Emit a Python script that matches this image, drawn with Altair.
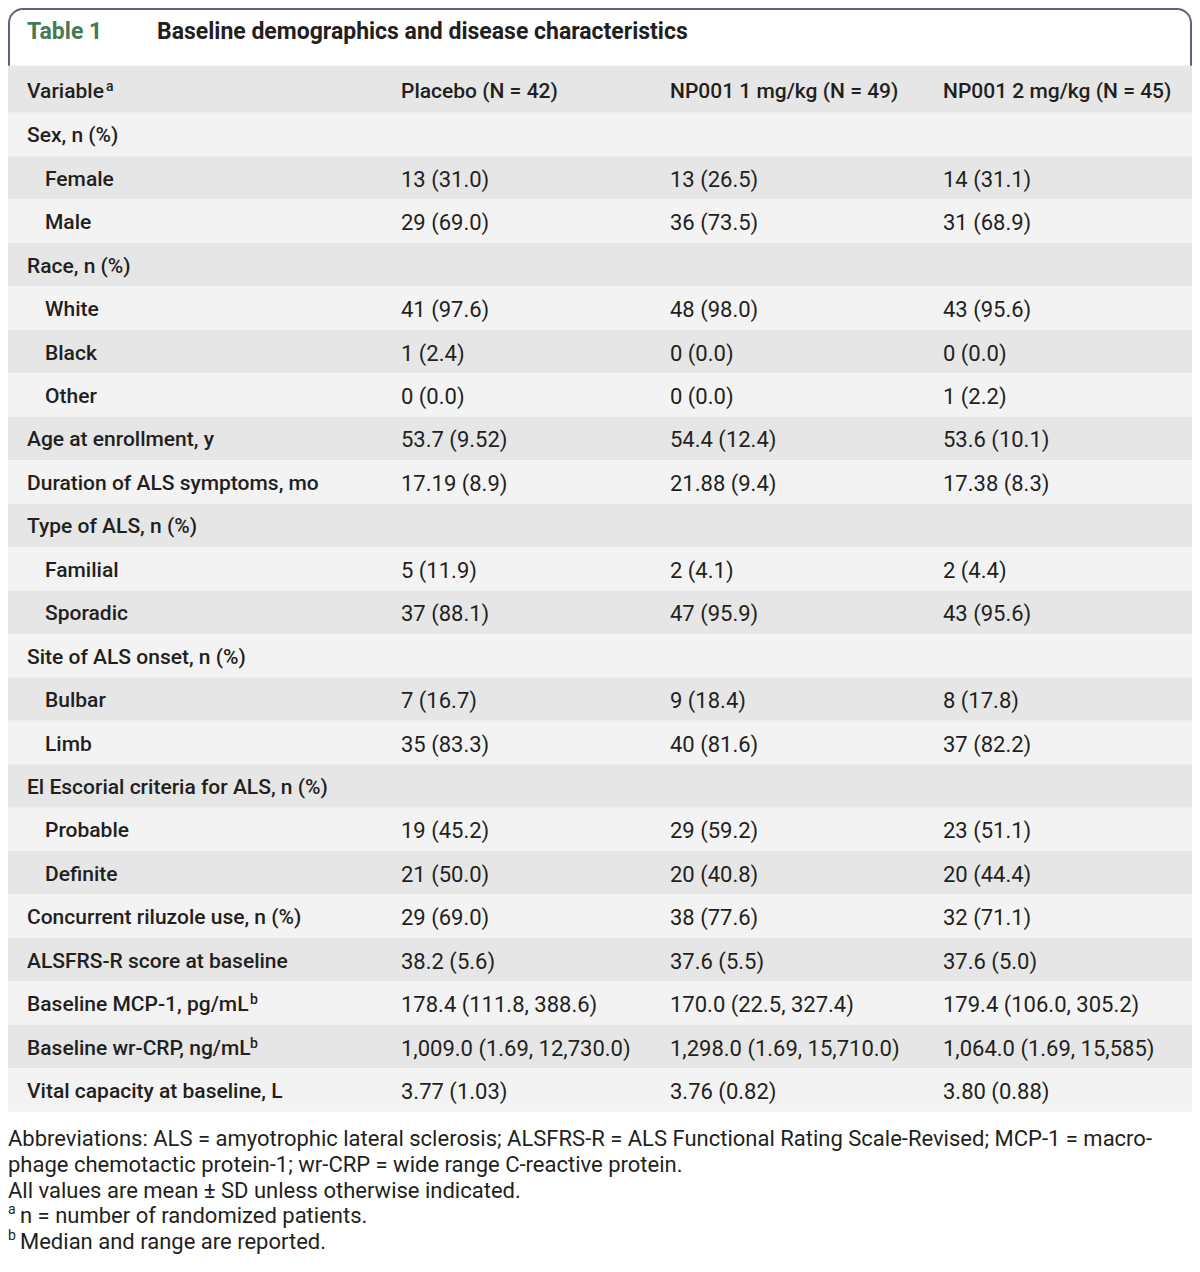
import altair as alt
import pandas as pd

# ---------------- content ----------------
title_tag = "Table 1"
title_text = "Baseline demographics and disease characteristics"
header = ["Variable", "Placebo (N = 42)", "NP001 1 mg/kg (N = 49)", "NP001 2 mg/kg (N = 45)"]

labels = [
    "Sex, n (%)", "Female", "Male", "Race, n (%)", "White", "Black", "Other",
    "Age at enrollment, y", "Duration of ALS symptoms, mo", "Type of ALS, n (%)",
    "Familial", "Sporadic", "Site of ALS onset, n (%)", "Bulbar", "Limb",
    "El Escorial criteria for ALS, n (%)", "Probable", "Definite",
    "Concurrent riluzole use, n (%)", "ALSFRS-R score at baseline",
    "Baseline MCP-1, pg/mL", "Baseline wr-CRP, ng/mL", "Vital capacity at baseline, L",
]
indent = [0, 1, 1, 0, 1, 1, 1, 0, 0, 0, 1, 1, 0, 1, 1, 0, 1, 1, 0, 0, 0, 0, 0]
label_marks = ["", "", "", "", "", "", "", "", "", "", "", "", "", "", "", "", "", "",
               "", "", "b", "b", ""]
header_mark = "a"
placebo = ["", "13 (31.0)", "29 (69.0)", "", "41 (97.6)", "1 (2.4)", "0 (0.0)",
           "53.7 (9.52)", "17.19 (8.9)", "", "5 (11.9)", "37 (88.1)", "",
           "7 (16.7)", "35 (83.3)", "", "19 (45.2)", "21 (50.0)", "29 (69.0)",
           "38.2 (5.6)", "178.4 (111.8, 388.6)", "1,009.0 (1.69, 12,730.0)", "3.77 (1.03)"]
np001_1 = ["", "13 (26.5)", "36 (73.5)", "", "48 (98.0)", "0 (0.0)", "0 (0.0)",
           "54.4 (12.4)", "21.88 (9.4)", "", "2 (4.1)", "47 (95.9)", "",
           "9 (18.4)", "40 (81.6)", "", "29 (59.2)", "20 (40.8)", "38 (77.6)",
           "37.6 (5.5)", "170.0 (22.5, 327.4)", "1,298.0 (1.69, 15,710.0)", "3.76 (0.82)"]
np001_2 = ["", "14 (31.1)", "31 (68.9)", "", "43 (95.6)", "0 (0.0)", "1 (2.2)",
           "53.6 (10.1)", "17.38 (8.3)", "", "2 (4.4)", "43 (95.6)", "",
           "8 (17.8)", "37 (82.2)", "", "23 (51.1)", "20 (44.4)", "32 (71.1)",
           "37.6 (5.0)", "179.4 (106.0, 305.2)", "1,064.0 (1.69, 15,585)", "3.80 (0.88)"]
footnotes = [
    "Abbreviations: ALS = amyotrophic lateral sclerosis; ALSFRS-R = ALS Functional Rating Scale-Revised; MCP-1 = macro-",
    "phage chemotactic protein-1; wr-CRP = wide range C-reactive protein.",
    "All values are mean ± SD unless otherwise indicated.",
    "n = number of randomized patients.",
    "Median and range are reported.",
]
footnote_marks = ["", "", "", "a", "b"]

# ---------------- layout / style ----------------
W, H = 1184, 1250
FONT = "Roboto"
INK = "#231f20"
GREEN = "#457a55"
PURPLE = "#6d5a7d"
DARK_ROW = "#e6e6e6"
LIGHT_ROW = "#f3f3f3"
COL_X = [19, 393, 662, 935]
INDENT = 18
ROW_TOP, ROW_BOTTOM = 104.7, 1103.7     # pixel span of the 23 body rows
HEADER_ROWS = 1.08                       # header height in row units
FOOT_TOP, FOOT_BOTTOM = 1131, 1234
SUP_AFTER = {"Variable": 78, "Baseline MCP-1, pg/mL": 222, "Baseline wr-CRP, ng/mL": 222}
FOOT_TEXT_X = [0, 0, 0, 12, 12]

n = len(labels)
px = alt.Scale(domain=[0, W], range=[0, W])
row_scale = alt.Scale(domain=[0, n], range=[ROW_TOP, ROW_BOTTOM])

# row backgrounds
bg = pd.DataFrame({
    "y0": [-HEADER_ROWS] + [i for i in range(n)],
    "y1": [0] + [i + 1 for i in range(n)],
    "shade": ["dark"] + ["light" if i % 2 == 0 else "dark" for i in range(n)],
})

# cells
cells, sups = [], []
hc = -HEADER_ROWS / 2
for c, h in enumerate(header):
    cells.append({"x": COL_X[c], "r": hc, "text": h, "kind": "head"})
sups.append({"x": COL_X[0] + SUP_AFTER[header[0]] + 1, "r": hc, "text": header_mark, "kind": "head"})
for i in range(n):
    rc = i + 0.5
    lx = COL_X[0] + INDENT * indent[i]
    cells.append({"x": lx, "r": rc, "text": labels[i], "kind": "label"})
    if label_marks[i]:
        sups.append({"x": lx + SUP_AFTER[labels[i]] + 1, "r": rc, "text": label_marks[i], "kind": "label"})
    for c, col in enumerate([placebo, np001_1, np001_2], start=1):
        if col[i]:
            cells.append({"x": COL_X[c], "r": rc, "text": col[i], "kind": "value"})
cells = pd.DataFrame(cells)
sups = pd.DataFrame(sups)

box = alt.Chart(pd.DataFrame({"a": [0]})).mark_rect(
    fill="white", stroke=PURPLE, strokeWidth=2,
    cornerRadiusTopLeft=14, cornerRadiusTopRight=14,
).encode(x=alt.value(1), x2=alt.value(W - 1), y=alt.value(1), y2=alt.value(62))

rows = alt.Chart(bg).mark_rect().encode(
    x=alt.value(0), x2=alt.value(W),
    y=alt.Y("y0:Q", scale=row_scale, axis=None),
    y2="y1:Q",
    color=alt.Color("shade:N", scale=alt.Scale(domain=["dark", "light"], range=[DARK_ROW, LIGHT_ROW]), legend=None),
)

def text_layer(df, kind, weight, size, dy):
    return alt.Chart(df).transform_filter(alt.datum.kind == kind).mark_text(
        align="left", baseline="middle", font=FONT, fontSize=size, fontWeight=weight, color=INK, dy=dy,
    ).encode(
        x=alt.X("x:Q", scale=px, axis=None),
        y=alt.Y("r:Q", scale=row_scale, axis=None),
        text="text:N",
    )

heads = text_layer(cells, "head", 500, 21, 3)
lbls = text_layer(cells, "label", 500, 21, 2)
vals = text_layer(cells, "value", 400, 22, 2)
sup_head = text_layer(sups, "head", 500, 14, -2)
sup_lbl = text_layer(sups, "label", 500, 14, -3)

titles = pd.DataFrame({"x": [COL_X[0], 149], "text": [title_tag, title_text], "who": ["tag", "title"]})
title_layer = alt.Chart(titles).mark_text(
    align="left", baseline="middle", font=FONT, fontSize=23, fontWeight="bold",
).encode(
    x=alt.X("x:Q", scale=px, axis=None),
    y=alt.value(24),
    text="text:N",
    color=alt.Color("who:N", scale=alt.Scale(domain=["tag", "title"], range=[GREEN, INK]), legend=None),
)

fn = pd.DataFrame({
    "line": list(range(len(footnotes))), "text": footnotes, "mark": footnote_marks, "x": FOOT_TEXT_X,
})
foot_scale = alt.Scale(domain=[0, len(footnotes) - 1], range=[FOOT_TOP, FOOT_BOTTOM])
foot = alt.Chart(fn).mark_text(
    align="left", baseline="middle", font=FONT, fontSize=22, color=INK,
).encode(
    x=alt.X("x:Q", scale=px, axis=None),
    y=alt.Y("line:Q", scale=foot_scale, axis=None),
    text="text:N",
)
foot_sup = alt.Chart(fn).transform_filter(alt.datum.mark != "").mark_text(
    align="left", baseline="middle", font=FONT, fontSize=14, color=INK, dy=-6,
).encode(
    x=alt.value(0),
    y=alt.Y("line:Q", scale=foot_scale, axis=None),
    text="mark:N",
)

chart = alt.layer(box, rows, heads, lbls, vals, sup_head, sup_lbl, title_layer, foot, foot_sup).resolve_scale(
    y="independent", x="independent", color="independent"
).properties(width=W, height=H, padding=0, autosize="none").configure_view(stroke=None)

chart.save("out.html", embed_options={"renderer": "svg", "actions": False})
